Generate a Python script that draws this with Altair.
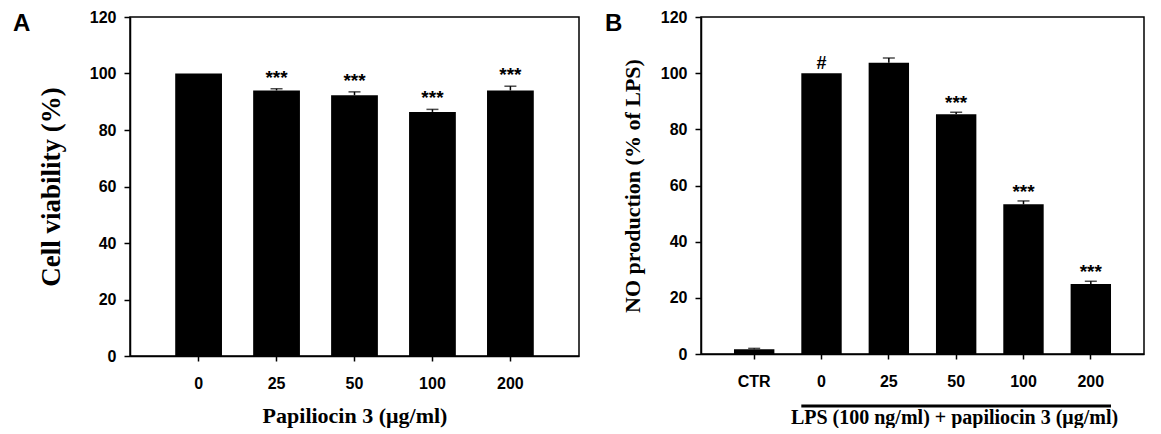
import altair as alt
import pandas as pd

# ---------------- data ----------------
conc_a = ["0", "25", "50", "100", "200"]
viability_a = [100.0, 94.0, 92.3, 86.4, 94.0]
sem_a = [0.0, 0.6, 1.2, 0.9, 1.5]
sig_a = ["", "***", "***", "***", "***"]

groups_b = ["CTR", "0", "25", "50", "100", "200"]
no_b = [1.7, 100.0, 103.7, 85.4, 53.3, 24.9]
sem_b = [0.3, 0.0, 1.7, 0.7, 1.2, 1.0]
stars_b = ["", "", "", "***", "***", "***"]
hash_b = ["", "#", "", "", "", ""]

y_ticks = [0, 20, 40, 60, 80, 100, 120]

SANS = "Liberation Sans"
SERIF = "Liberation Serif"

df_a = pd.DataFrame({"conc": conc_a, "val": viability_a, "sem": sem_a, "sig": sig_a})
df_a["upper"] = df_a["val"] + df_a["sem"]

df_b = pd.DataFrame({"grp": groups_b, "val": no_b, "sem": sem_b, "stars": stars_b, "hash": hash_b})
df_b["upper"] = df_b["val"] + df_b["sem"]

# ---------------- panel A ----------------
WA, HA = 449, 339
xa_scale = alt.Scale(domain=conc_a, paddingInner=0.4, paddingOuter=0.58)
ya_scale = alt.Scale(domain=[0, 120], nice=False, zero=True)

base_a = alt.Chart(df_a)
bars_a = base_a.mark_bar(color="black").encode(
    x=alt.X("conc:N", sort=conc_a, scale=xa_scale,
            axis=alt.Axis(title="Papiliocin 3 (μg/ml)", labelAngle=0, tickSize=5,
                          labelPadding=14, titleFontSize=22, titleBaseline="alphabetic",
                          titleY=66)),
    y=alt.Y("val:Q", scale=ya_scale,
            axis=alt.Axis(values=y_ticks, title="Cell viability (%)", tickSize=6,
                          labelPadding=8, titleFontSize=27, titleX=-79, titleY=HA / 2,
                          titleBaseline="middle", titleAngle=-90)),
)
err_a = base_a.transform_filter("datum.sem > 0")
stem_a = err_a.mark_rule(color="black", strokeWidth=1.5).encode(
    x=alt.X("conc:N", sort=conc_a), y="val:Q", y2="upper:Q")
cap_a = err_a.mark_tick(color="black", size=12, thickness=1.5).encode(
    x=alt.X("conc:N", sort=conc_a), y="upper:Q")
sig_text_a = base_a.mark_text(font=SANS, fontSize=19, fontWeight="bold", baseline="alphabetic",
                              dy=-5, color="black").encode(
    x=alt.X("conc:N", sort=conc_a), y="upper:Q", text="sig:N")
label_a = alt.Chart(pd.DataFrame({"t": ["A"]})).mark_text(
    font=SANS, fontSize=24, fontWeight="bold", align="left", baseline="alphabetic",
    color="black").encode(text="t:N", x=alt.value(-117), y=alt.value(14))

chart_a = alt.layer(bars_a, stem_a, cap_a, sig_text_a, label_a).properties(width=WA, height=HA)

# ---------------- panel B ----------------
WB, HB = 443, 337
xb_scale = alt.Scale(domain=groups_b, paddingInner=0.4, paddingOuter=0.49)
yb_scale = alt.Scale(domain=[0, 120], nice=False, zero=True)

base_b = alt.Chart(df_b)
bars_b = base_b.mark_bar(color="black").encode(
    x=alt.X("grp:N", sort=groups_b, scale=xb_scale,
            axis=alt.Axis(title="LPS (100 ng/ml) + papiliocin 3 (μg/ml)", labelAngle=0,
                          tickSize=5, labelPadding=14, titleFontSize=20,
                          titleBaseline="alphabetic", titleX=253, titleY=69)),
    y=alt.Y("val:Q", scale=yb_scale,
            axis=alt.Axis(values=y_ticks, title="NO production (% of LPS)", tickSize=6,
                          labelPadding=8, titleFontSize=22, titleX=-69, titleY=HB / 2,
                          titleBaseline="middle", titleAngle=-90)),
)
err_b = base_b.transform_filter("datum.sem > 0")
stem_b = err_b.mark_rule(color="black", strokeWidth=1.5).encode(
    x=alt.X("grp:N", sort=groups_b), y="val:Q", y2="upper:Q")
cap_b = err_b.mark_tick(color="black", size=12, thickness=1.5).encode(
    x=alt.X("grp:N", sort=groups_b), y="upper:Q")
stars_text_b = base_b.mark_text(font=SANS, fontSize=19, fontWeight="bold", baseline="alphabetic",
                                dy=-3, color="black").encode(
    x=alt.X("grp:N", sort=groups_b), y="upper:Q", text="stars:N")
hash_text_b = base_b.mark_text(font=SANS, fontSize=18, fontWeight="bold", baseline="alphabetic",
                               dy=-4, color="black").encode(
    x=alt.X("grp:N", sort=groups_b), y="upper:Q", text="hash:N")
bracket_b = alt.Chart(pd.DataFrame({"start": ["0"], "end": ["200"]})).mark_rule(
    color="black", strokeWidth=3).encode(
    x=alt.X("start:N", sort=groups_b, bandPosition=0),
    x2=alt.X2("end", bandPosition=1),
    y=alt.value(389))
label_b = alt.Chart(pd.DataFrame({"t": ["B"]})).mark_text(
    font=SANS, fontSize=24, fontWeight="bold", align="left", baseline="alphabetic",
    color="black").encode(text="t:N", x=alt.value(-96), y=alt.value(14))

chart_b = alt.layer(bars_b, stem_b, cap_b, stars_text_b, hash_text_b, bracket_b, label_b).properties(
    width=WB, height=HB)

chart = alt.hconcat(chart_a, chart_b, spacing=24).properties(
    padding={"left": 4, "top": 0, "right": 0, "bottom": 0}
).configure_view(stroke="black", strokeWidth=1.5).configure_axis(
    grid=False, domainColor="black", domainWidth=1.5, tickColor="black", tickWidth=1.5,
    labelFont=SANS, labelFontSize=16, labelFontWeight="bold", labelColor="black",
    titleFont=SERIF, titleFontWeight="bold", titleColor="black"
)

chart.save("out.html", embed_options={"renderer": "svg", "actions": False})
